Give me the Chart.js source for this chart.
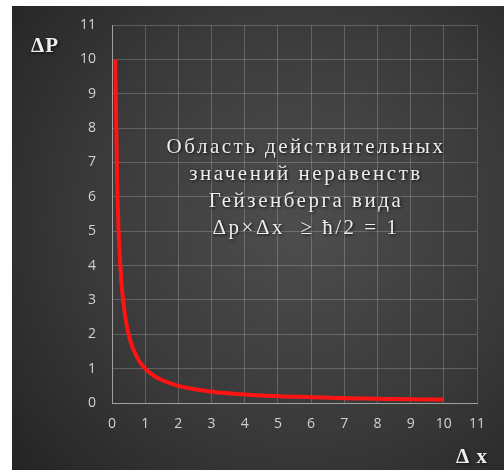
<!DOCTYPE html>
<html>
<head>
<meta charset="utf-8">
<script src="https://cdn.jsdelivr.net/npm/chart.js@4"></script>
<style>
  html, body { margin: 0; padding: 0; background: #fff; }
  #box { width: 504px; height: 470px; }
</style>
</head>
<body>
<div id="box"><canvas id="chart" width="504" height="470"></canvas></div>
<script>
// data
const dx = [0.1, 0.15, 0.2, 0.25, 0.3, 0.4, 0.5, 0.6, 0.8, 1, 1.25, 1.5, 2, 2.5, 3, 4, 5, 6, 7, 8, 9, 10];
const dp = [10, 6.67, 5, 4, 3.33, 2.5, 2, 1.67, 1.25, 1, 0.8, 0.67, 0.5, 0.4, 0.33, 0.25, 0.2, 0.17, 0.14, 0.125, 0.11, 0.1];
const axisTicks = [0, 1, 2, 3, 4, 5, 6, 7, 8, 9, 10, 11];
const noteLines = ["Область действительных", "значений неравенств", "Гейзенберга вида", "Δp×Δx  ≥ ħ/2 = 1"];

const points = dx.map((x, i) => ({ x: x, y: dp[i] }));

// dark backdrop with a lighter middle, like the Excel chart
const backdrop = {
    id: "backdrop",
    beforeDraw(chart) {
        const c = chart.ctx;
        c.save();
        c.fillStyle = "#ffffff";
        c.fillRect(0, 0, chart.width, chart.height);
        const g = c.createRadialGradient(300, 220, 20, 300, 220, 380);
        g.addColorStop(0, "#4c4c4c");
        g.addColorStop(0.55, "#393939");
        g.addColorStop(1, "#242424");
        c.fillStyle = g;
        c.fillRect(12, 6, chart.width - 12, chart.height - 6);
        c.restore();
    }
};

const labels = {
    id: "labels",
    afterDatasetsDraw(chart) {
        const c = chart.ctx;
        c.save();
        c.fillStyle = "#eeeeee";
        c.shadowColor = "rgba(0,0,0,0.8)";
        c.shadowBlur = 3;
        c.shadowOffsetX = 1;
        c.shadowOffsetY = 1;
        c.textAlign = "center";
        c.textBaseline = "middle";
        c.font = "21px 'Liberation Serif'";
        c.letterSpacing = "2.5px";
        noteLines.forEach((t, i) => c.fillText(t, 306, 147 + i * 27));
        c.letterSpacing = "1px";
        c.font = "bold 21px 'Liberation Serif'";
        c.fillText("ΔP", 45, 47);
        c.fillText("Δ x", 472, 458);
        c.restore();
    }
};

new Chart(document.getElementById("chart"), {
    type: "scatter",
    data: {
        datasets: [{
            data: points,
            showLine: true,
            borderColor: "#ff1414",
            borderWidth: 4,
            pointRadius: 0,
            cubicInterpolationMode: "monotone"
        }]
    },
    options: {
        responsive: false,
        animation: false,
        layout: { padding: { top: 25, right: 27, left: 0, bottom: 0 } },
        plugins: { legend: { display: false }, tooltip: { enabled: false } },
        scales: {
            x: {
                type: "linear", min: 0, max: 11,
                afterFit(s) { s.height = 67; },
                afterBuildTicks(s) { s.ticks = axisTicks.map(v => ({ value: v })); },
                grid: { color: "rgba(255,255,255,0.2)", drawTicks: false },
                border: { color: "#a0a0a0", width: 1 },
                ticks: { color: "#d2d2d2", padding: 13, font: { family: "'Open Sans'", size: 14 } }
            },
            y: {
                type: "linear", min: 0, max: 11,
                afterFit(s) { s.width = 112; },
                afterBuildTicks(s) { s.ticks = axisTicks.map(v => ({ value: v })); },
                grid: { color: "rgba(255,255,255,0.2)", drawTicks: false },
                border: { color: "#a0a0a0", width: 1 },
                ticks: { color: "#d2d2d2", padding: 16, font: { family: "'Open Sans'", size: 14 } }
            }
        }
    },
    plugins: [backdrop, labels]
});
</script>
</body>
</html>
